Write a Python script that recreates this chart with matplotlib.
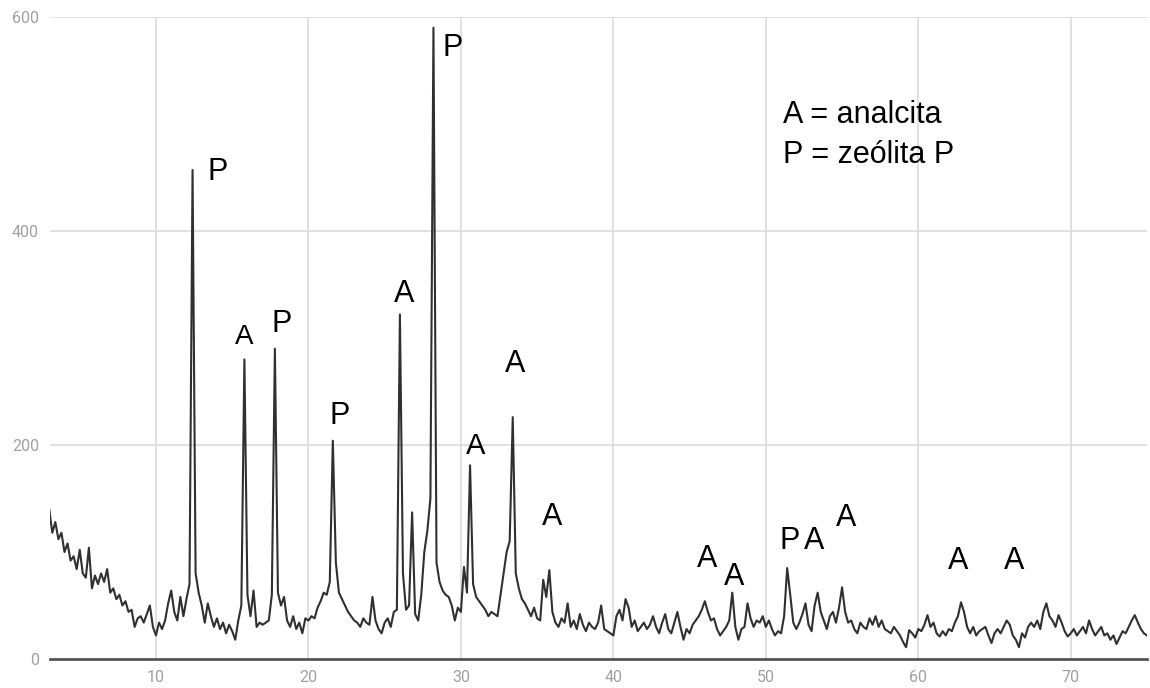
import numpy as np
import matplotlib
matplotlib.use("Agg")
import matplotlib.pyplot as plt

# XRD scan, 2-theta from 3.0 to 75.0 deg, step 0.2
seg_03_13 = [140, 118, 128, 112, 118, 100, 108, 92, 96, 84,
             102, 80, 76, 104, 66, 78, 70, 80, 72, 84,
             62, 66, 56, 60, 50, 54, 44, 46, 30, 38,
             40, 34, 42, 50, 30, 22, 34, 28, 36, 52,
             64, 44, 36, 58, 40, 56, 70, 457, 80, 62]
seg_13_23 = [50, 34, 52, 40, 30, 38, 28, 34, 24, 32,
             26, 18, 36, 50, 280, 60, 40, 64, 30, 34,
             32, 34, 36, 60, 290, 62, 50, 58, 36, 30,
             40, 28, 34, 24, 38, 36, 40, 38, 48, 54,
             62, 60, 72, 204, 90, 62, 56, 50, 44, 40]
seg_23_33 = [36, 34, 30, 38, 34, 32, 58, 36, 28, 24,
             34, 38, 30, 44, 46, 322, 80, 46, 50, 137,
             42, 36, 60, 100, 120, 150, 590, 90, 72, 64,
             60, 58, 50, 36, 48, 44, 86, 62, 181, 70,
             58, 54, 50, 46, 40, 44, 42, 40, 60, 80]
seg_33_43 = [100, 110, 226, 80, 66, 56, 52, 46, 40, 48,
             38, 36, 74, 58, 83, 44, 34, 30, 38, 34,
             52, 30, 36, 28, 42, 32, 26, 34, 30, 28,
             34, 50, 28, 26, 24, 22, 40, 46, 36, 56,
             48, 30, 36, 26, 30, 34, 28, 32, 40, 30]
seg_43_53 = [24, 34, 42, 28, 24, 34, 44, 30, 18, 28,
             24, 32, 36, 40, 46, 54, 44, 36, 38, 28,
             22, 26, 30, 36, 62, 30, 18, 28, 30, 52,
             38, 30, 36, 34, 40, 30, 36, 28, 22, 26,
             24, 40, 85, 60, 34, 28, 34, 42, 52, 32]
seg_53_63 = [26, 50, 62, 44, 36, 28, 40, 44, 34, 48,
             67, 44, 34, 36, 28, 24, 34, 30, 28, 38,
             32, 40, 30, 36, 28, 26, 24, 30, 26, 22,
             16, 11, 27, 24, 20, 28, 26, 32, 41, 30,
             34, 24, 21, 26, 22, 28, 26, 34, 40, 53]
seg_63_73 = [44, 30, 24, 30, 22, 26, 28, 30, 22, 15,
             24, 28, 24, 30, 36, 32, 22, 18, 11, 24,
             20, 30, 34, 30, 36, 28, 44, 52, 40, 36,
             30, 41, 34, 26, 21, 24, 28, 22, 26, 30,
             24, 36, 28, 22, 26, 30, 22, 24, 18, 22]
seg_73_75 = [14, 20, 26, 24, 30, 36, 41, 34, 28, 24, 22]

segments = [seg_03_13, seg_13_23, seg_23_33, seg_33_43,
            seg_43_53, seg_53_63, seg_63_73, seg_73_75]
intensity = np.concatenate([np.array(s, dtype=float) for s in segments])
two_theta = np.round(np.arange(3.0, 75.01, 0.2), 1)
assert len(two_theta) == len(intensity), (len(two_theta), len(intensity))

# peak labels (text, x, y)
label_text = ["P", "A", "P", "P", "A", "P", "A", "A", "A",
              "A", "A", "P", "A", "A", "A", "A"]
label_x = [14.07, 15.77, 18.26, 22.03, 26.26, 29.48, 30.98, 33.54, 35.97,
           46.13, 47.90, 51.57, 53.15, 55.25, 62.60, 66.26]
label_y = [455, 301, 313, 227, 341, 571, 199, 276, 133,
           93, 77, 110, 110, 132, 92, 92]
label_size = [22, 20, 22, 22, 22, 22, 21, 22, 22,
              22, 22, 22, 22, 22, 22, 22]

legend_lines = ["A = analcita", "P = zeólita P"]

fig = plt.figure(figsize=(11.5, 6.88), dpi=100)
ax = fig.add_axes([50 / 1150, 29 / 688, 1097 / 1150, 642 / 688])

ax.plot(two_theta, intensity, color="#303030", lw=1.5, zorder=3)

for t, x, y, s in zip(label_text, label_x, label_y, label_size):
    ax.text(x, y, t, fontsize=s, family="Liberation Sans", color="black",
            ha="center", va="center", zorder=4)

ax.text(51.11, 501, legend_lines[0], fontsize=22, family="Liberation Sans",
        ha="left", va="baseline")
ax.text(51.11, 464, legend_lines[1], fontsize=22, family="Liberation Sans",
        ha="left", va="baseline")

ax.set_xlim(3.05, 75)
ax.set_ylim(0, 600)
ax.set_xticks(range(10, 71, 10))
ax.set_yticks([0, 200, 400, 600])
ax.grid(True, color="#dcdcdc", lw=1.2, zorder=0)
ax.set_axisbelow(True)
for side in ["top", "right", "left"]:
    ax.spines[side].set_visible(False)
ax.spines["bottom"].set_color("#555555")
ax.spines["bottom"].set_linewidth(2)
ax.spines["bottom"].set_zorder(5)
ax.tick_params(length=0, labelsize=11.5, labelcolor="#a0a0a0")
ax.tick_params(axis="x", pad=8)
ax.tick_params(axis="y", pad=8)
for lab in ax.get_xticklabels() + ax.get_yticklabels():
    lab.set_family("Roboto")

fig.savefig("out.png", dpi=100)
